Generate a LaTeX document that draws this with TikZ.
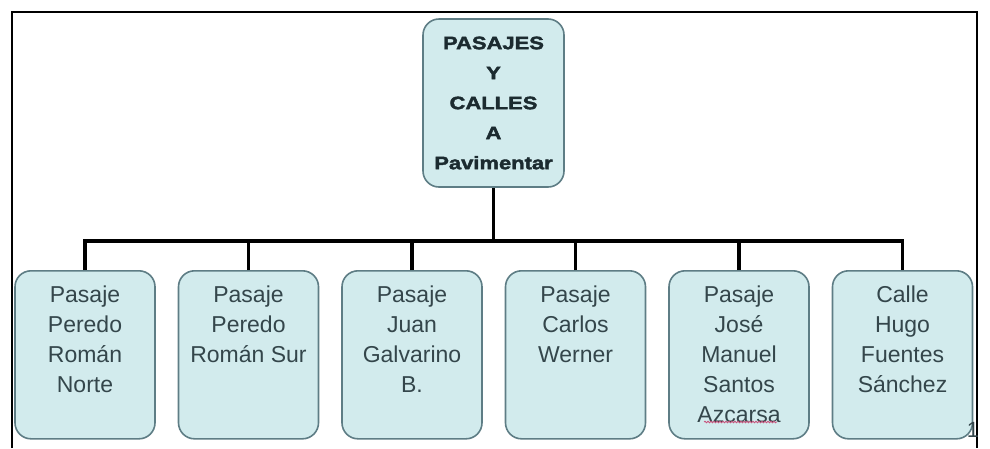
\documentclass[tikz,border=0pt]{standalone}
\usepackage{fontspec}
\setmainfont{Liberation Sans}
\newfontfamily\topfont[FakeStretch=1.22, BoldFeatures={FakeBold=2.2}]{Liberation Sans}
\usetikzlibrary{decorations.pathmorphing}
\definecolor{boxc}{HTML}{D2EBED}
\definecolor{edgec}{HTML}{5E7D85}
\definecolor{txtc}{HTML}{34464B}
\definecolor{toptxt}{HTML}{1C2B30}
\definecolor{spellc}{HTML}{C8507A}
\tikzset{
  frameline/.style={line width=2pt, black},
  rootbox/.style={draw=edgec, line width=1.6pt, fill=boxc, rounded corners=16pt,
    minimum width=141pt, minimum height=168pt, text width=141pt, inner sep=0pt,
    align=center, text=toptxt, font=\topfont\bfseries\fontsize{18}{30}\selectfont},
  leafbox/.style={draw=edgec, line width=1.6pt, fill=boxc, rounded corners=16pt,
    inner sep=0pt, anchor=north, text=txtc, font=\fontsize{23}{30}\selectfont},
  link/.style={line width=3.5pt, black, line join=miter}
}
\newcommand{\leaftext}[1]{\parbox[t][168pt][t]{140pt}{\centering\vspace*{15pt}#1}}
\begin{document}
\begin{tikzpicture}[x=1pt,y=-1pt]
\useasboundingbox (0,0) rectangle (990,448);
\fill[white] (0,0) rectangle (990,448);
\draw[frameline] (12,448) -- (12,12) -- (977,12) -- (977,448);

\node[rootbox] (root) at (493.5,103) {PASAJES\\Y\\CALLES\\A\\Pavimentar};

\node[leafbox] (b1) at (85,270)    {\leaftext{Pasaje\\Peredo\\Román\\Norte}};
\node[leafbox] (b2) at (248.5,270) {\leaftext{Pasaje\\Peredo\\Román Sur}};
\node[leafbox] (b3) at (412,270)   {\leaftext{Pasaje\\Juan\\Galvarino\\B.}};
\node[leafbox] (b4) at (575.5,270) {\leaftext{Pasaje\\Carlos\\Werner}};
\node[leafbox] (b5) at (739,270)   {\leaftext{Pasaje\\José\\Manuel\\Santos\\Azcarsa}};
\node[leafbox] (b6) at (902.5,270) {\leaftext{Calle\\Hugo\\Fuentes\\Sánchez}};

\coordinate (bus) at (493.5,241);
\draw[link] (root.south) -- (bus);
\draw[link] (b1.north) |- (bus) -| (b6.north);
\draw[link] (b2.north) -- (b2.north |- bus);
\draw[link] (b3.north) -- (b3.north |- bus);
\draw[link] (b4.north) -- (b4.north |- bus);
\draw[link] (b5.north) -- (b5.north |- bus);

\draw[spellc, line width=0.8pt, decorate, decoration={snake, amplitude=0.8pt, segment length=3pt}]
  (704,422) -- (777,422);

\node[text=txtc, font=\fontsize{22}{22}\selectfont, inner sep=0pt] (pg) at (973,430) {1};
\end{tikzpicture}
\end{document}
